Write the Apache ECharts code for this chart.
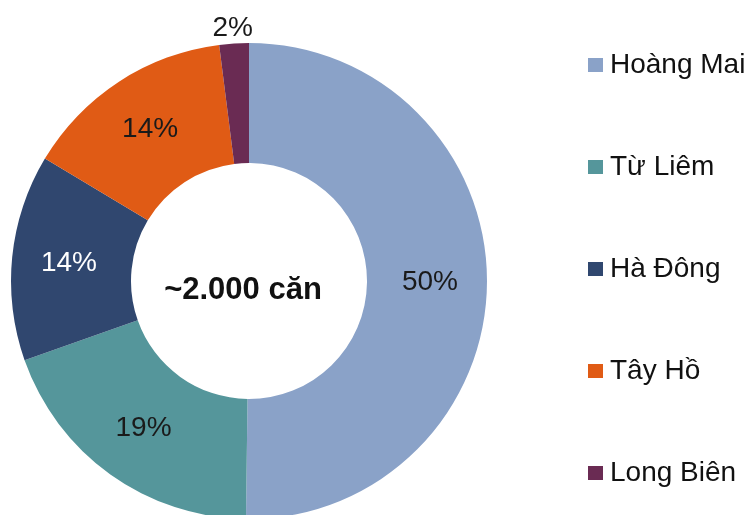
<!DOCTYPE html>
<html>
<head>
<meta charset="UTF-8">
<title>Nguồn cung</title>
<script type="text/javascript" src="https://cdn.jsdelivr.net/npm/echarts@6/dist/echarts.min.js"></script>
<style>
  body{margin:0;background:#fff}
</style>
</head>
<body>
	<div id="main" style="width:755px;height:515px"></div>
	<script type="text/javascript">
	// du lieu (ty le doc tu goc cua tung lat, nhan lam tron)
	var quan = ['Hoàng Mai', 'Từ Liêm', 'Hà Đông', 'Tây Hồ', 'Long Biên'];
	var tyLe = [50.2, 19.4, 14.0, 14.4, 2.0];
	var mau = ['#8aa2c8', '#55969b', '#30476f', '#e05b15', '#6a2b53'];
	var mauChu = ['#1a1a1a', '#1a1a1a', '#ffffff', '#1a1a1a', '#1a1a1a'];

	var myChart = echarts.init(document.getElementById('main'));

	var duLieu = quan.map(function (ten, i) {
		var d = {
			name: ten,
			value: tyLe[i],
			itemStyle: {color: mau[i]},
			label: {color: mauChu[i]}
		};
		// nhan 2% nam ngoai vong
		if (i == 4) {
			d.label.offset = [-5, -72];
		}
		return d;
	});

	var option = {
		animation: false,
		title: {
			text: '~2.000 căn',
			left: 238,
			top: 285,
			textAlign: 'center',
			textVerticalAlign: 'middle',
			textStyle: {
				fontFamily: 'Liberation Sans, Arial',
				fontWeight: 'bold',
				fontSize: 31,
				color: '#111'
			}
		},
		legend: {
			orient: 'vertical',
			left: 583,
			top: 46,
			itemWidth: 15,
			itemHeight: 14,
			itemGap: 74,
			icon: 'rect',
			data: quan,
			textStyle: {
				fontFamily: 'Liberation Sans, Arial',
				fontSize: 28,
				color: '#111',
				padding: [0, 0, 0, 2]
			}
		},
		series: [{
			type: 'pie',
			center: [249, 281],
			radius: [118, 238],
			startAngle: 90,
			clockwise: true,
			avoidLabelOverlap: false,
			label: {
				show: true,
				position: 'inside',
				formatter: function (p) {
					return Math.round(p.value) + '%';
				},
				fontFamily: 'Liberation Sans, Arial',
				fontSize: 28
			},
			labelLine: {show: false},
			itemStyle: {borderWidth: 0},
			emphasis: {disabled: true},
			data: duLieu
		}]
	};

	myChart.setOption(option);
	</script>
</body>
</html>
